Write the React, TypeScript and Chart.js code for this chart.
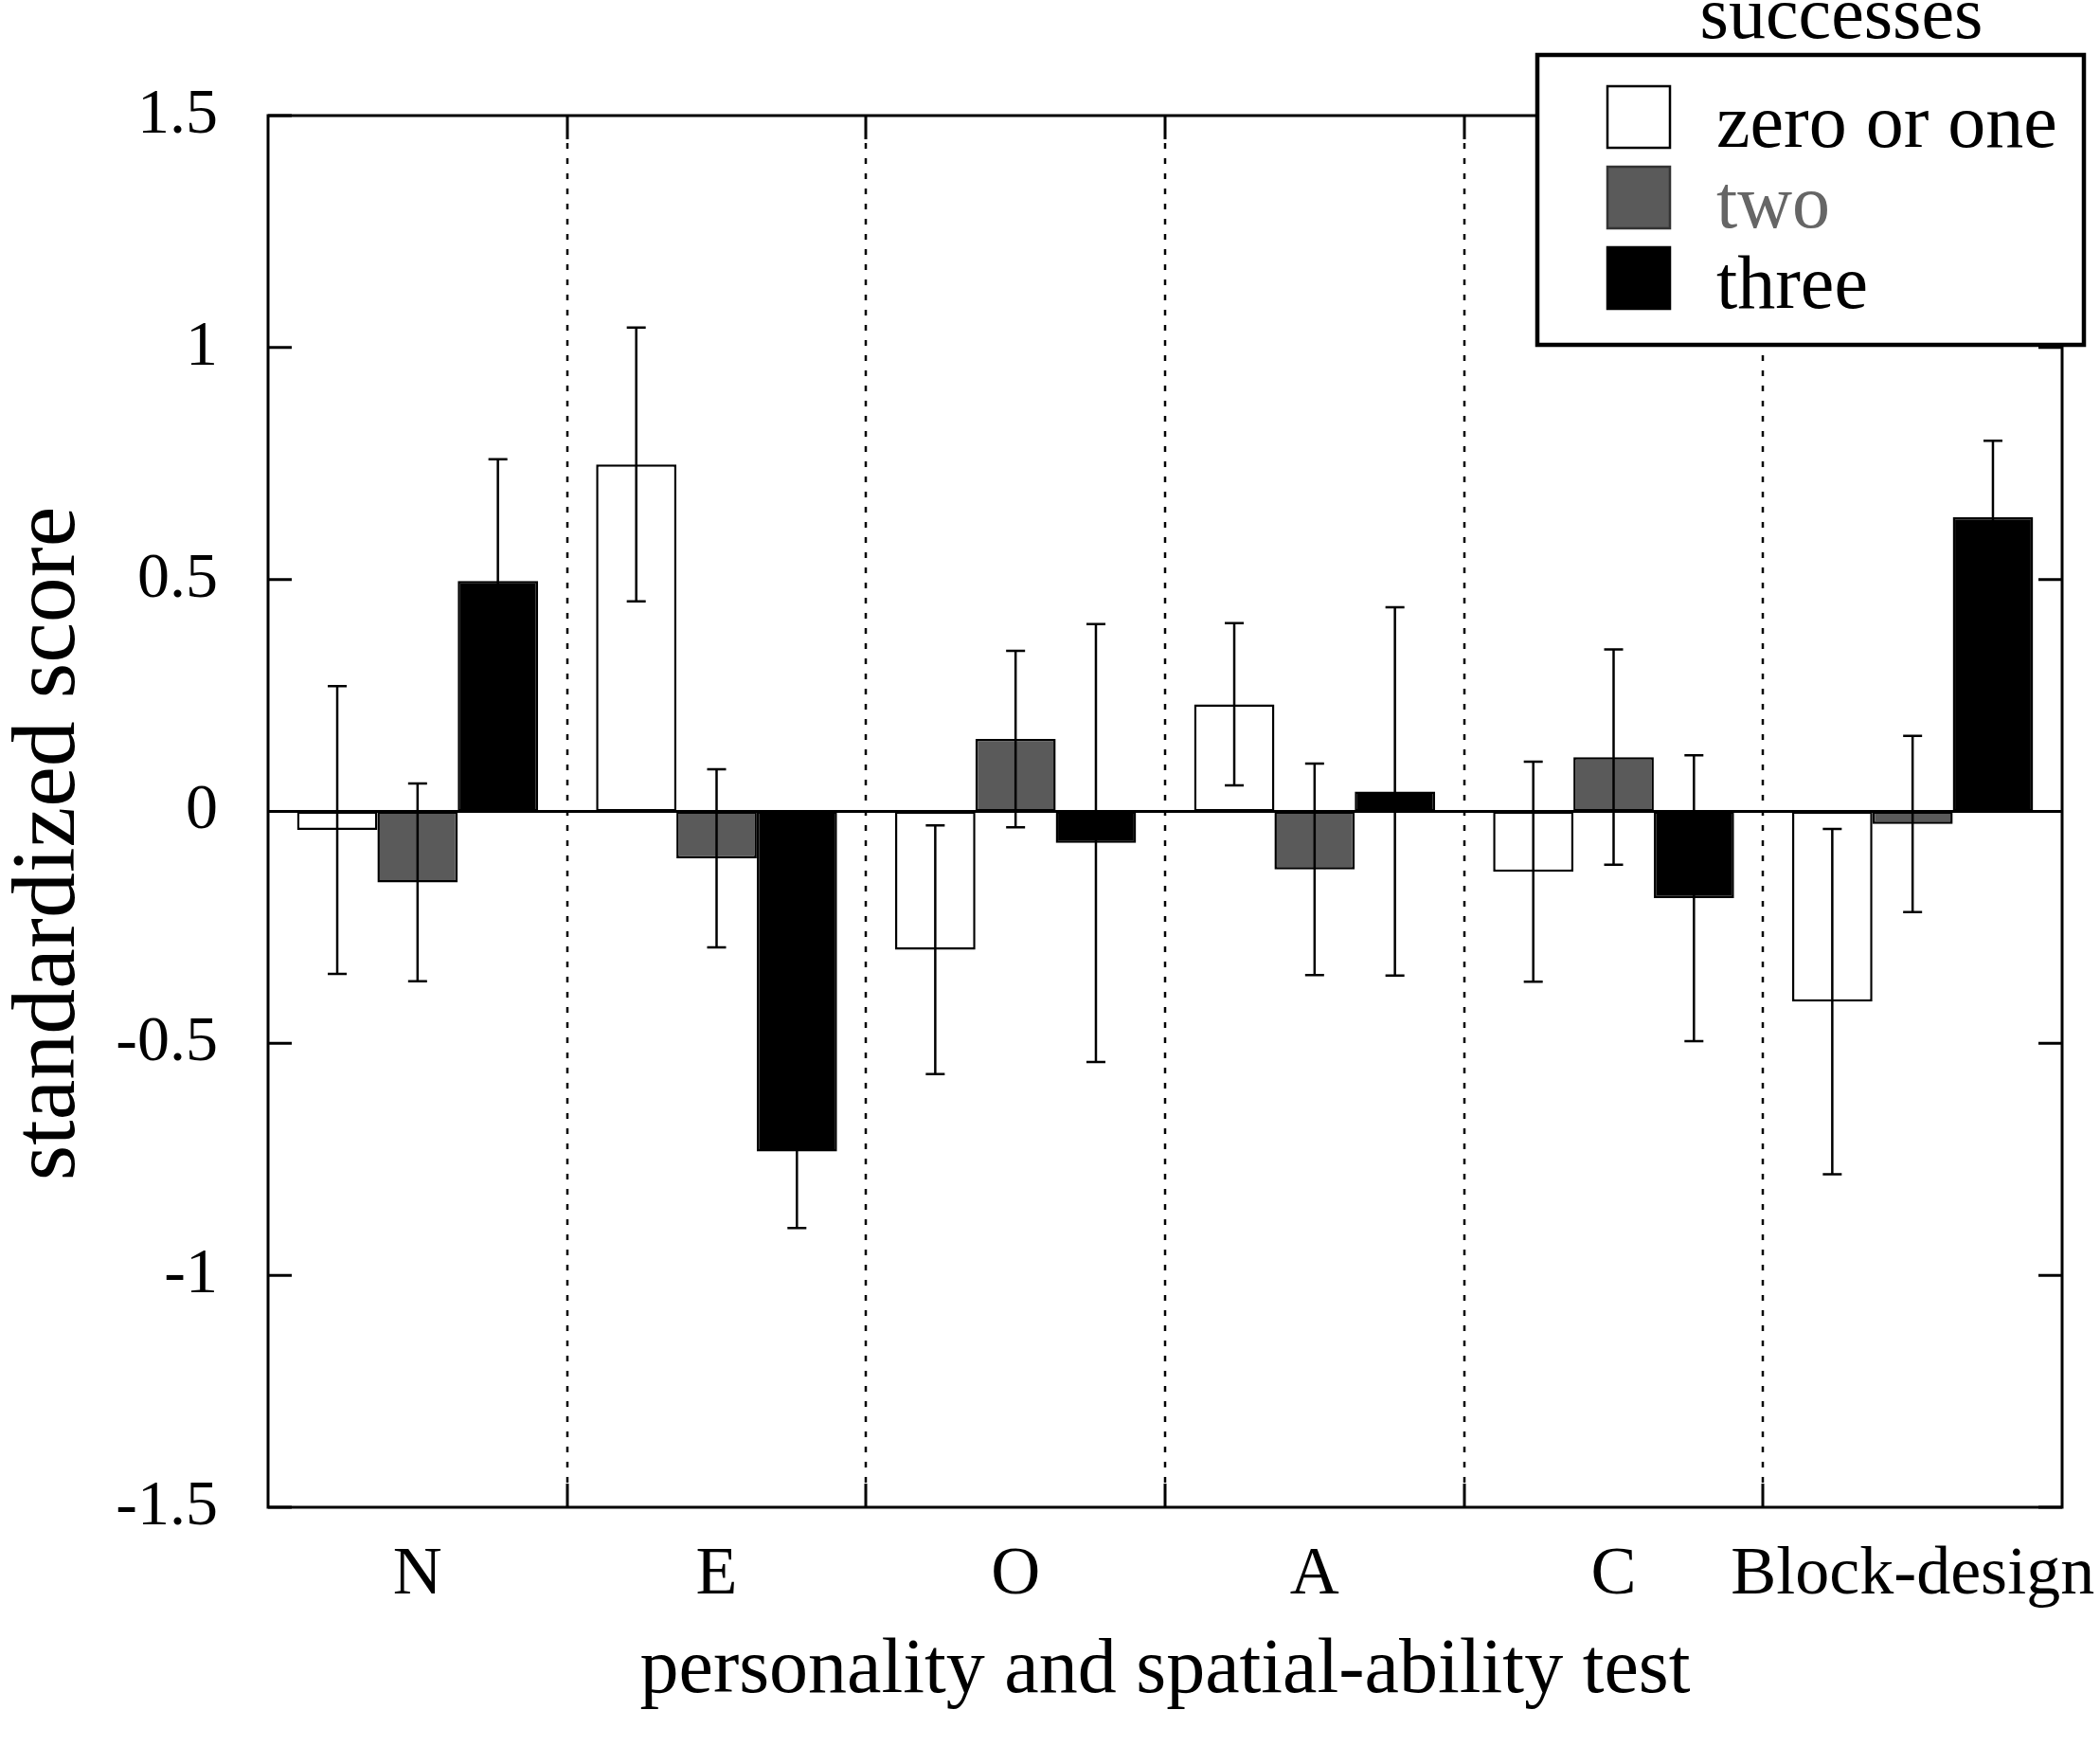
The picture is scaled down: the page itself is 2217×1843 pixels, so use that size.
import React, { useRef, useEffect } from 'react';
import { Chart, registerables } from 'chart.js';

Chart.register(...registerables);

const categories = ['N', 'E', 'O', 'A', 'C', 'Block-design'];
const seriesNames = ['zero or one', 'two', 'three'];

// means
const zeroOrOne = [-0.04, 0.748, -0.298, 0.231, -0.13, -0.41];
const two = [-0.153, -0.101, 0.156, -0.125, 0.117, -0.027];
const three = [0.497, -0.733, -0.068, 0.043, -0.187, 0.634];

// half-length of the error bars
const zeroOrOneErr = [0.31, 0.295, 0.268, 0.175, 0.237, 0.372];
const twoErr = [0.213, 0.192, 0.19, 0.228, 0.232, 0.19];
const threeErr = [0.262, 0.165, 0.472, 0.397, 0.308, 0.165];

const yTicks = [-1.5, -1, -0.5, 0, 0.5, 1, 1.5];

const FONT = '"Liberation Serif", "Times New Roman", serif';
const fills = ['#ffffff', '#5a5a5a', '#000000'];
const errors = [zeroOrOneErr, twoErr, threeErr];

const framePlugin = {
  id: 'frame',
  afterDatasetsDraw(chart: any) {
    const { ctx, chartArea: a, scales } = chart;
    const x = scales.x;
    const y = scales.y;
    ctx.save();
    ctx.strokeStyle = '#000';

    // zero line
    ctx.lineWidth = 3;
    const y0 = y.getPixelForValue(0);
    ctx.beginPath();
    ctx.moveTo(a.left, y0);
    ctx.lineTo(a.right, y0);
    ctx.stroke();

    // error bars
    chart.data.datasets.forEach((ds: any, i: number) => {
      const meta = chart.getDatasetMeta(i);
      meta.data.forEach((bar: any, j: number) => {
        const v = ds.data[j];
        const e = errors[i][j];
        const top = y.getPixelForValue(v + e);
        const bot = y.getPixelForValue(v - e);
        ctx.lineWidth = 2.5;
        ctx.beginPath();
        ctx.moveTo(bar.x, top);
        ctx.lineTo(bar.x, bot);
        ctx.moveTo(bar.x - 10, top);
        ctx.lineTo(bar.x + 10, top);
        ctx.moveTo(bar.x - 10, bot);
        ctx.lineTo(bar.x + 10, bot);
        ctx.stroke();
      });
    });

    // dotted separators between categories, solid ticks at top/bottom
    const tick = 25;
    for (let k = 1; k < categories.length; k++) {
      const xs = Math.round((x.getPixelForValue(k - 1) + x.getPixelForValue(k)) / 2);
      ctx.lineWidth = 2.5;
      ctx.setLineDash([6, 10]);
      ctx.beginPath();
      ctx.moveTo(xs, a.top + tick + 4);
      ctx.lineTo(xs, a.bottom - tick);
      ctx.stroke();
      ctx.setLineDash([]);
      ctx.lineWidth = 3;
      ctx.beginPath();
      ctx.moveTo(xs, a.top);
      ctx.lineTo(xs, a.top + tick);
      ctx.moveTo(xs, a.bottom);
      ctx.lineTo(xs, a.bottom - tick);
      ctx.stroke();
    }

    // y ticks, both sides, pointing inward
    ctx.lineWidth = 3;
    yTicks.forEach((t) => {
      const py = y.getPixelForValue(t);
      ctx.beginPath();
      ctx.moveTo(a.left, py);
      ctx.lineTo(a.left + tick, py);
      ctx.moveTo(a.right, py);
      ctx.lineTo(a.right - tick, py);
      ctx.stroke();
    });

    // frame
    ctx.strokeRect(a.left, a.top, a.right - a.left, a.bottom - a.top);
    ctx.restore();
  },
  afterDraw(chart: any) {
    const { ctx, chartArea: a } = chart;
    ctx.save();

    // y axis title, sits a little below the middle of the axis
    ctx.save();
    ctx.translate(78, (a.top + a.bottom) / 2 + 34);
    ctx.rotate(-Math.PI / 2);
    ctx.font = `96px ${FONT}`;
    ctx.fillStyle = '#000';
    ctx.textAlign = 'center';
    ctx.textBaseline = 'alphabetic';
    ctx.fillText('standardized score', 0, 0);
    ctx.restore();

    // legend box
    const bx = 1623;
    const by = 58;
    const bw = 577;
    const bh = 306;
    ctx.fillStyle = '#fff';
    ctx.fillRect(bx, by, bw, bh);
    ctx.lineWidth = 4.5;
    ctx.strokeStyle = '#000';
    ctx.strokeRect(bx, by, bw, bh);

    ctx.fillStyle = '#000';
    ctx.font = `78px ${FONT}`;
    ctx.textAlign = 'center';
    ctx.textBaseline = 'alphabetic';
    ctx.fillText('successes', 1944, 40);

    ctx.textAlign = 'left';
    ctx.font = `80px ${FONT}`;
    seriesNames.forEach((name, i) => {
      const sy = 91 + i * 85;
      ctx.fillStyle = fills[i];
      ctx.fillRect(1697, sy, 66, 65);
      ctx.lineWidth = 2.5;
      ctx.strokeStyle = i === 1 ? '#333' : '#000';
      ctx.strokeRect(1697, sy, 66, 65);
      ctx.fillStyle = i === 1 ? '#666666' : '#000';
      ctx.fillText(name, 1812, sy + 64);
    });
    ctx.restore();
  },
};

export default function App() {
  const canvasRef = useRef<HTMLCanvasElement>(null);

  useEffect(() => {
    if (!canvasRef.current) return;
    const seriesData = [zeroOrOne, two, three];
    const chart = new Chart(canvasRef.current, {
      type: 'bar',
      data: {
        labels: categories,
        datasets: seriesNames.map((name, i) => ({
          label: name,
          data: seriesData[i],
          backgroundColor: fills[i],
          borderColor: '#000',
          borderWidth: 2.5,
          borderSkipped: false,
          categoryPercentage: 0.806,
          barPercentage: 1,
        })),
      },
      options: {
        responsive: false,
        animation: false,
        devicePixelRatio: 1,
        layout: { padding: { top: 122, right: 40, left: 0, bottom: 0 } },
        plugins: {
          legend: { display: false },
          tooltip: { enabled: false },
        },
        scales: {
          x: {
            grid: { display: false },
            border: { display: false },
            ticks: {
              color: '#000',
              font: { family: FONT, size: 72 },
              padding: 21,
              maxRotation: 0,
              autoSkip: false,
            },
            title: {
              display: true,
              text: 'personality and spatial-ability test',
              color: '#000',
              font: { family: FONT, size: 82 },
              padding: { top: 0, bottom: 29 },
            },
            afterFit: (scale: any) => {
              scale.height = 252;
              scale.paddingLeft = 0;
              scale.paddingRight = 0;
            },
          },
          y: {
            min: -1.5,
            max: 1.5,
            grid: { display: false },
            border: { display: false },
            ticks: {
              stepSize: 0.5,
              color: '#000',
              font: { family: FONT, size: 68 },
              padding: 45,
              callback: (v: any) => String(v),
            },
            afterFit: (scale: any) => {
              scale.width = 283;
              scale.paddingTop = 0;
              scale.paddingBottom = 0;
            },
          },
        },
      },
      plugins: [framePlugin],
    });
    return () => {
      chart.destroy();
    };
  }, []);

  return (
    <div style={{ position: 'absolute', left: 0, top: 0, width: 2217, height: 1843, background: '#fff' }}>
      <canvas ref={canvasRef} width={2217} height={1843} />
    </div>
  );
}
